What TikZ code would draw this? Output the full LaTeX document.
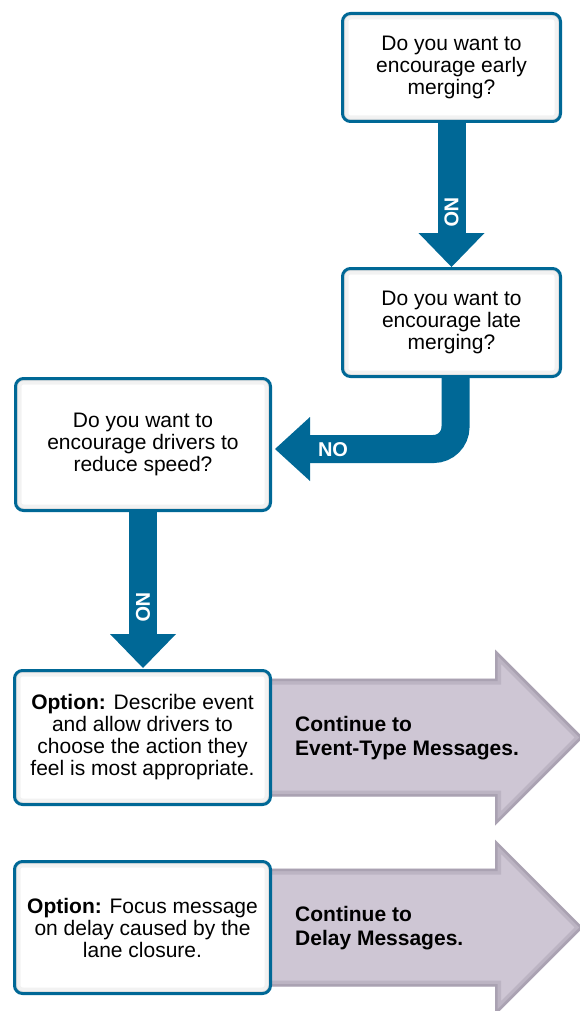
\documentclass[tikz,border=0pt]{standalone}
\usepackage{fontspec}
\setmainfont{Liberation Sans}
\usetikzlibrary{calc,backgrounds}

\definecolor{flowblue}{RGB}{0,104,150}
\definecolor{exitgrey}{RGB}{206,198,212}
\definecolor{exitshade}{RGB}{110,100,120}

% outline of a wide "continue" arrow: #1 = start point, #2 = tip
\newcommand\exitoutline[2]{%
  ($(#1)+(0,-59)$) -- ($(#2)+(-88,-59)$) -- ($(#2)+(-88,-88)$) -- (#2)
  -- ($(#2)+(-88,88)$) -- ($(#2)+(-88,59)$) -- ($(#1)+(0,59)$) -- cycle}

\begin{document}
\begin{tikzpicture}[x=1pt,y=-1pt,
  qbox/.style={draw=flowblue, line width=3pt, fill=white, rounded corners=8pt,
    align=center, inner sep=0pt, font=\fontsize{21}{22}\selectfont,
    path picture={
      \draw[black, opacity=.05, line width=12pt]
        (path picture bounding box.north west) rectangle (path picture bounding box.south east);
      \draw[black, opacity=.07, line width=5pt]
        (path picture bounding box.north west) rectangle (path picture bounding box.south east);
    }},
  flow/.style={draw=flowblue, line width=28pt},
  flowhead/.style={fill=flowblue},
  nolabel/.style={text=white, font=\bfseries\fontsize{20}{20}\selectfont, inner sep=0pt},
  exittext/.style={anchor=west, align=left, inner sep=0pt,
    font=\bfseries\fontsize{21}{24}\selectfont},
  exitbody/.style={fill=exitgrey}
]
\useasboundingbox (0,0) rectangle (579,1011);

% decision boxes
\node[qbox, minimum width=218pt, minimum height=108pt] (q1) at (451.5,67.5)
  {Do you want to\\encourage early\\merging?};
\node[qbox, minimum width=218pt, minimum height=108pt] (q2) at (451.5,322.5)
  {Do you want to\\encourage late\\merging?};
\node[qbox, minimum width=255pt, minimum height=132pt] (q3) at (143,444.5)
  {Do you want to\\encourage drivers to\\reduce speed?};

% option boxes
\node[qbox, minimum width=256pt, minimum height=134pt] (o1) at (142.5,737.5)
  {\textbf{Option:} Describe event\\and allow drivers to\\choose the action they\\feel is most appropriate.};
\node[qbox, minimum width=256pt, minimum height=132pt] (o2) at (142.5,927.5)
  {\textbf{Option:} Focus message\\on delay caused by the\\lane closure.};

% continue arrows behind the option boxes
\path (o1.center) ++(440.5,0) coordinate (t1);
\path (o2.center) ++(440.5,0) coordinate (t2);
\begin{scope}[on background layer]
  \foreach \o/\t in {o1/t1, o2/t2} {
    \fill[exitbody] \exitoutline{\o.center}{\t};
    \begin{scope}
      \clip \exitoutline{\o.center}{\t};
      \draw[exitshade, opacity=.18, line width=12pt] \exitoutline{\o.center}{\t};
      \draw[exitshade, opacity=.22, line width=5pt] \exitoutline{\o.center}{\t};
    \end{scope}
  }
\end{scope}
\node[exittext] (c1) at (295,738) {Continue to\\Event-Type Messages.};
\node[exittext] (c2) at (295,928) {Continue to\\Delay Messages.};

% q1 -> q2
\draw[flow] (q1.south) -- ($(q2.north)+(0,-34)$);
\fill[flowhead] ($(q2.north)+(-33,-34)$) -- (q2.north) -- ($(q2.north)+(33,-34)$) -- cycle;
\node[nolabel, rotate=-90] (n1) at ($(q1.south)+(0,89)$) {NO};

% q2 -> q3 (bent)
\coordinate (b0) at ($(q2.south)+(4,0)$);
\coordinate (b1) at ($(q3.east)+(38,4.5)$);
\draw[flow, rounded corners=22pt] (b0) |- (b1);
\fill[flowhead] ($(b1)+(0,-32)$) -- ($(q3.east)+(3,4.5)$) -- ($(b1)+(0,32)$) -- cycle;
\node[nolabel] (n2) at ($(q3.east)+(61,5.5)$) {NO};

% q3 -> o1
\draw[flow] (q3.south) -- ($(o1.north)+(0.5,-35)$);
\fill[flowhead] ($(o1.north)+(-32.5,-35)$) -- ($(o1.north)+(0.5,-1)$) -- ($(o1.north)+(33.5,-35)$) -- cycle;
\node[nolabel, rotate=-90] (n3) at ($(q3.south)+(0,95)$) {NO};

\end{tikzpicture}
\end{document}
